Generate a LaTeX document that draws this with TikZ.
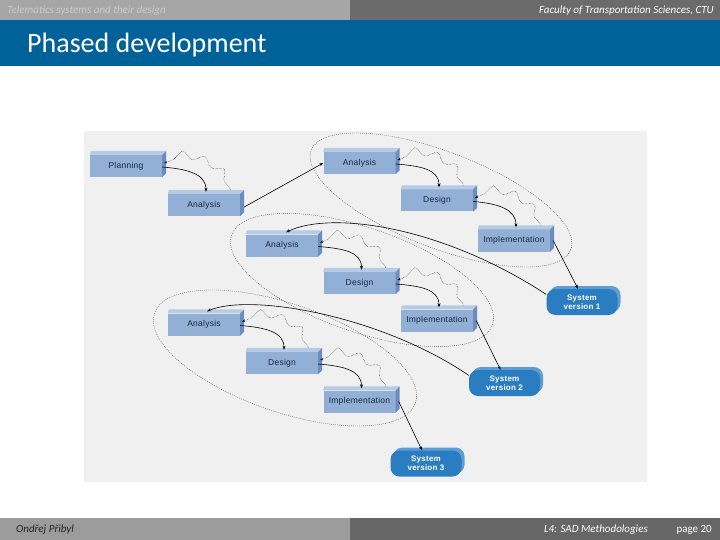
\documentclass[tikz,border=0pt]{standalone}
\usepackage{fontspec}
\setmainfont{Carlito}
\newfontfamily\boxfont{Liberation Sans}[LetterSpace=3]
\usetikzlibrary{arrows.meta,decorations.pathmorphing,shadows}
\definecolor{hdrL}{HTML}{A6A6A6}
\definecolor{hdrR}{HTML}{6B6B6B}
\definecolor{band}{HTML}{006298}
\definecolor{ftrL}{HTML}{9C9C9C}
\definecolor{ftrR}{HTML}{676767}
\definecolor{imgbg}{HTML}{F0F0F0}
\definecolor{bxfront}{HTML}{92B0D6}
\definecolor{bxtop}{HTML}{B8CBE4}
\definecolor{bxside}{HTML}{6A8DC0}
\definecolor{bxtext}{HTML}{1A2640}
\definecolor{svfill}{HTML}{2A7DC0}
\definecolor{svshade}{HTML}{5D9DD4}
\definecolor{hdtext}{HTML}{CACACA}
\begin{document}
\begin{tikzpicture}[x=1pt,y=-1pt,
  phase/.style={fill=bxfront, minimum width=72pt, minimum height=22pt, inner sep=0pt,
    font=\boxfont\fontsize{8.5}{10}\selectfont, text=bxtext},
  sysver/.style={fill=svfill, rounded corners=9pt, minimum width=71pt, minimum height=26pt,
    inner sep=0pt, align=center, text=white, font=\boxfont\bfseries\fontsize{8}{9}\selectfont,
    copy shadow={shadow xshift=3pt, shadow yshift=3pt, fill=svshade, draw=none}},
  flow/.style={semithick, -{Stealth[length=4pt,width=3pt]}},
  back/.style={thin, densely dotted, decorate,
    decoration={snake, amplitude=3.5pt, segment length=22pt, pre length=2pt, post length=5pt},
    -{Stealth[length=3pt,width=2.5pt]}},
  group/.style={thin, dash pattern=on 0.8pt off 1.2pt, draw=black!75},
  hdsmall/.style={inner sep=0pt, font=\itshape\fontsize{11}{13}\selectfont}
]
\useasboundingbox (0,0) rectangle (720,540);
\fill[white] (0,0) rectangle (720,540);
% header / footer
\fill[hdrL] (0,0) rectangle (350,20);
\fill[hdrR] (350,0) rectangle (720,20);
\fill[band] (0,20) rectangle (720,66);
\fill[ftrL] (0,518) rectangle (350,540);
\fill[ftrR] (350,518) rectangle (720,540);
\node[hdsmall, anchor=base west, text=hdtext] (hdl) at (7,14) {Telematics systems and their design};
\node[hdsmall, anchor=base east, text=white] (hdr) at (714,14) {Faculty of Transportation Sciences, CTU};
\node[inner sep=0pt, anchor=base west, text=white, font=\fontsize{28}{32}\selectfont] (title) at (27,53) {Phased development};
\node[hdsmall, anchor=base west, text=black!85] (ftl) at (16,532) {Ondřej Přibyl};
\node[hdsmall, anchor=base east, text=white] (ftc) at (648,532) {L4: SAD Methodologies};
\node[inner sep=0pt, anchor=base east, text=white, font=\fontsize{11}{13}\selectfont] (ftp) at (712,532) {page 20};
% image background
\fill[imgbg] (84,131) rectangle (647,482);
% groups
\draw[group, rotate around={-21:(441,200)}] (441,200) ellipse [x radius=139pt, y radius=48pt];
\draw[group, rotate around={-19:(362,280)}] (362,280) ellipse [x radius=138pt, y radius=52pt];
\draw[group, rotate around={-19:(285,358)}] (285,358) ellipse [x radius=138pt, y radius=54pt];
% phase boxes
\node[phase] (pl) at (126,166) {Planning};
\node[phase] (a0) at (204,205) {Analysis};
\node[phase] (a1) at (359.5,163) {Analysis};
\node[phase] (d1) at (437,200.5) {Design};
\node[phase] (i1) at (514,240.5) {Implementation};
\node[phase] (a2) at (282,245.5) {Analysis};
\node[phase] (d2) at (359.5,283) {Design};
\node[phase] (i2) at (437,320.5) {Implementation};
\node[phase] (a3) at (204,324.5) {Analysis};
\node[phase] (d3) at (282,363) {Design};
\node[phase] (i3) at (359.5,401.5) {Implementation};
\foreach \b in {pl,a0,a1,d1,i1,a2,d2,i2,a3,d3,i3}{
  \fill[bxtop] (\b.north west) -- ([shift={(1,-4)}]\b.north west) -- ([shift={(4,-4)}]\b.north east) -- (\b.north east) -- cycle;
  \fill[bxside] (\b.north east) -- ([shift={(4,-4)}]\b.north east) -- ([shift={(4,-4)}]\b.south east) -- (\b.south east) -- cycle;
}
% system versions
\node[sysver] (sv1) at (582,302) {System\\version 1};
\node[sysver] (sv2) at (504.5,383) {System\\version 2};
\node[sysver] (sv3) at (426,463.5) {System\\version 3};
% phase-to-phase flows and feedback
\foreach \u/\v in {pl/a0,a1/d1,d1/i1,a2/d2,d2/i2,a3/d3,d3/i3}{
  \draw[flow] ([yshift=-1pt]\u.east) .. controls +(25,2) and +(0,-18) .. ([xshift=2pt,yshift=2pt]\v.north);
  \draw[back] ([shift={(-10,-4)}]\v.north east) .. controls +(-3,-20) and +(22,-10) .. ([xshift=2pt,yshift=3pt]\u.east);
}
% straight connectors
\draw[flow] ([xshift=4pt,yshift=-2pt]a0.east) -- (a1.west);
\draw[flow] ([xshift=3pt]i1.east) -- ([xshift=-4pt]sv1.north);
\draw[flow] ([xshift=3pt]i2.east) -- ([xshift=-4pt]sv2.north);
\draw[flow] ([xshift=3pt]i3.east) -- ([xshift=-4pt]sv3.north);
% iteration feedback
\draw[flow] (sv1.168) .. controls (440,225) and (330,211) .. ([xshift=4pt,yshift=2pt]a2.north);
\draw[flow] (sv2.168) .. controls (380,315) and (250,293) .. ([xshift=3pt,yshift=2pt]a3.north);
\end{tikzpicture}
\end{document}
